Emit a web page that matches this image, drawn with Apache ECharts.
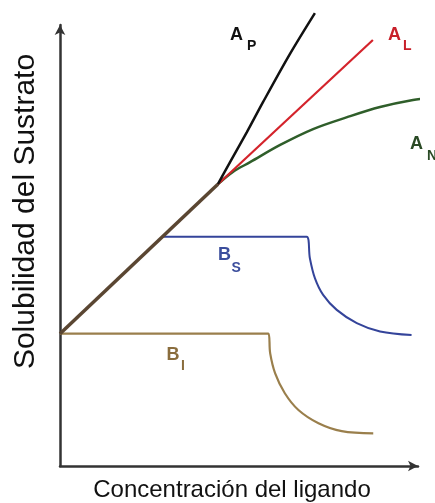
<!DOCTYPE html>
<html>
<head>
<meta charset="utf-8">
<script src="https://cdn.jsdelivr.net/npm/echarts@6/dist/echarts.min.js"></script>
<style>
html,body{margin:0;padding:0;background:#fff;}
#chart{width:435px;height:503px;}
</style>
</head>
<body>
<div id="chart"></div>
<script>
// Axis titles
const xTitle = 'Concentración del ligando';
const yTitle = 'Solubilidad del Sustrato';

// Shared initial linear rise (ligand concentration, substrate solubility)
const linearRise = [[0, 30], [44.1, 63.9]];
// A-type profiles (from the knee onward)
const curveAP = [[44.1, 63.9], [47.5, 68.9], [52.2, 75.7], [56.7, 82.5], [64.2, 93.4], [71.2, 102.7]];
const curveAL = [[44.1, 63.9], [87.4, 96.6]];
const curveAN = [[44.1, 63.9], [48.3, 66.7], [53.1, 68.9], [61.5, 72.8], [70.7, 76.4], [80.2, 79.1], [89.4, 81.4], [98.6, 83.0], [103.4, 83.4]];
// B-type profiles
const curveBS = [[28.5, 52.0], [68.9, 52.0], [69.8, 47.1], [71.2, 42.6], [73.5, 38.8], [77.3, 35.4], [82.9, 32.4], [89.4, 30.5], [98.2, 29.7]];
const curveBI = [[0, 30], [58.2, 30], [58.7, 25.6], [60.1, 21.0], [62.8, 16.5], [66.6, 12.7], [72.2, 9.7], [78.7, 7.9], [87.5, 7.4]];

// Curve labels (main letter, subscript)
const labelAP = ['A', 'P'];
const labelAL = ['A', 'L'];
const labelAN = ['A', 'N'];
const labelBS = ['B', 'S'];
const labelBI = ['B', 'I'];

const FONT = '"Liberation Sans", Arial, Helvetica, sans-serif';
const chart = echarts.init(document.getElementById('chart'), null, {renderer: 'canvas'});

function lineSeries(name, data, color, width, smooth, z) {
  return {
    name: name, type: 'line', data: data, showSymbol: false, symbol: 'none',
    clip: false, smooth: smooth,
    lineStyle: {color: color, width: width}, z: z, animation: false
  };
}

function label(parts, x, y, xs, ys, color) {
  return [
    {type: 'text', x: x, y: y, style: {text: parts[0], font: 'bold 18px ' + FONT, fill: color, align: 'left', verticalAlign: 'middle'}, z: 50},
    {type: 'text', x: xs, y: ys, style: {text: parts[1], font: 'bold 14px ' + FONT, fill: color, align: 'left', verticalAlign: 'middle'}, z: 50}
  ];
}

const axisCommon = {
  type: 'value', min: 0, max: 100,
  axisLabel: {show: false}, axisTick: {show: false}, splitLine: {show: false},
  axisLine: {show: true, symbol: ['none', 'arrow'], symbolSize: [8, 10], lineStyle: {color: '#333', width: 2.5}}
};

chart.setOption({
  backgroundColor: '#fff',
  animation: false,
  grid: {left: 60, top: 25, width: 358, height: 441},
  xAxis: Object.assign({}, axisCommon),
  yAxis: Object.assign({}, axisCommon),
  series: [
    lineSeries('A_N', curveAN, '#2f5e2a', 2.5, 0.35, 3),
    lineSeries('A_L', curveAL, '#d4232b', 2.2, false, 4),
    lineSeries('A_P', curveAP, '#111111', 2.5, 0.3, 5),
    lineSeries('B_S', curveBS, '#34449a', 2, 0.35, 3),
    lineSeries('B_I', curveBI, '#9a7f4c', 2.2, 0.35, 3),
    lineSeries('linear', linearRise, '#5a4632', 3.5, false, 6)
  ],
  graphic: [].concat(
    label(labelAP, 230, 35, 247, 46, '#111111'),
    label(labelAL, 388, 35, 403, 46.5, '#c8202a'),
    label(labelAN, 410, 144.5, 427, 156, '#2a4a25'),
    label(labelBS, 218, 255, 231.5, 268, '#3b4d9c'),
    label(labelBI, 166.5, 355, 181, 366, '#8a6d3d'),
    [
      {type: 'text', x: 232, y: 490, style: {text: xTitle, font: '24px ' + FONT, fill: '#111', align: 'center', verticalAlign: 'middle'}, z: 50},
      {type: 'text', x: 26, y: 211.5, rotation: Math.PI / 2, style: {text: yTitle, font: '30px ' + FONT, fill: '#111', align: 'center', verticalAlign: 'middle'}, z: 50}
    ]
  )
});
</script>
</body>
</html>
